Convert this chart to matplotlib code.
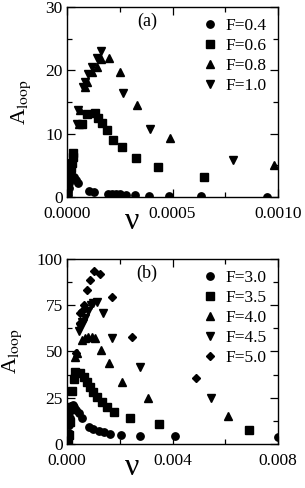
import matplotlib
matplotlib.use("Agg")
import matplotlib.pyplot as plt
from matplotlib.ticker import MultipleLocator, FormatStrFormatter

plt.rcParams['font.family'] = ['Liberation Serif', 'DejaVu Serif']
plt.rcParams['mathtext.fontset'] = 'stix'

# ---------------- panel (a) data ----------------
a_labels = ["F=0.4", "F=0.6", "F=0.8", "F=1.0"]
a_f04_x = [0.000004, 0.000006, 0.000008, 0.000010, 0.000013, 0.000016, 0.000020,
           0.000032, 0.000043, 0.000052, 0.000103, 0.000130, 0.000193, 0.000213,
           0.000234, 0.000250, 0.000281, 0.000324, 0.000387, 0.000482, 0.000637,
           0.000948]
a_f04_y = [0.3, 0.8, 1.4, 2.2, 3.0, 3.6, 4.0, 3.2, 2.7, 2.2, 0.95, 0.75, 0.5,
           0.48, 0.45, 0.42, 0.38, 0.3, 0.22, 0.15, 0.1, 0.05]
a_f06_x = [0.000015, 0.000020, 0.000024, 0.000027, 0.000030, 0.000070, 0.000093,
           0.000133, 0.000148, 0.000167, 0.000188, 0.000220, 0.000259, 0.000327,
           0.000433, 0.000648]
a_f06_y = [3.8, 4.6, 5.4, 6.3, 7.0, 11.6, 13.1, 13.2, 12.5, 11.7, 10.6, 9.0,
           7.9, 6.1, 4.8, 3.2]
a_f08_x = [0.000058, 0.000062, 0.000085, 0.000093, 0.000117, 0.000141, 0.000160,
           0.000200, 0.000251, 0.000330, 0.000488, 0.000980]
a_f08_y = [11.5, 13.8, 17.4, 18.2, 19.8, 20.6, 21.8, 22.0, 19.8, 14.5, 9.3, 5.0]
a_f10_x = [0.000046, 0.000054, 0.000077, 0.000085, 0.000101, 0.000117, 0.000141,
           0.000160, 0.000267, 0.000393, 0.000785]
a_f10_y = [11.5, 13.7, 17.3, 18.2, 19.4, 20.6, 22.0, 23.1, 16.4, 10.8, 5.8]

# ---------------- panel (b) data ----------------
b_labels = ["F=3.0", "F=3.5", "F=4.0", "F=4.5", "F=5.0"]
b_f30_x = [0.00002, 0.00004, 0.00006, 0.00008, 0.00010, 0.00013, 0.00017, 0.00022,
           0.00028, 0.00035, 0.00045, 0.00057, 0.00082, 0.00100, 0.00120, 0.00139,
           0.00164, 0.00205, 0.00275, 0.00410, 0.00800]
b_f30_y = [1.0, 3.0, 6.0, 10.0, 14.0, 18.0, 20.5, 21.0, 20.0, 18.5, 16.6, 13.9,
           9.4, 8.1, 7.2, 6.3, 5.6, 5.0, 4.5, 4.2, 4.0]
b_f35_x = [0.00003, 0.00006, 0.00010, 0.00015, 0.00020, 0.00025, 0.00032, 0.00050,
           0.00063, 0.00076, 0.00088, 0.00100, 0.00114, 0.00133, 0.00152, 0.00177,
           0.00239, 0.00350, 0.00690]
b_f35_y = [2.0, 5.0, 12.0, 20.0, 28.5, 35.0, 39.0, 38.2, 36.4, 33.7, 31.0, 28.3,
           25.6, 22.9, 20.2, 17.5, 14.1, 10.8, 7.6]
b_f40_x = [0.00030, 0.00037, 0.00056, 0.00068, 0.00081, 0.00094, 0.00106, 0.00128,
           0.00160, 0.00207, 0.00308, 0.00609]
b_f40_y = [47.0, 49.0, 56.0, 57.5, 58.0, 58.0, 57.1, 50.8, 43.6, 33.7, 24.7, 15.3]
b_f45_x = [0.00046, 0.00049, 0.00055, 0.00062, 0.00070, 0.00080, 0.00090, 0.00100,
           0.00112, 0.00135, 0.00170, 0.00277, 0.00545]
b_f45_y = [61.0, 63.4, 66.0, 65.2, 68.0, 72.0, 75.0, 76.0, 76.9, 70.6, 57.5, 41.8, 24.9]
b_f50_x = [0.00035, 0.00049, 0.00050, 0.00056, 0.00064, 0.00075, 0.00087, 0.00102,
           0.00125, 0.00170, 0.00245, 0.00490]
b_f50_y = [49.0, 65.5, 70.6, 72.0, 75.1, 83.2, 88.6, 93.5, 92.0, 79.3, 58.0, 35.6]

fig = plt.figure(figsize=(3.05, 4.88), dpi=100)
ax1 = fig.add_axes([0.2197, 0.5963, 0.6918, 0.3894])
ax2 = fig.add_axes([0.2197, 0.0902, 0.6918, 0.3791])

ms = 5.3
kw = dict(color='black', linestyle='none', markersize=ms)

ax1.plot(a_f04_x, a_f04_y, marker='o', label=a_labels[0], **kw)
ax1.plot(a_f06_x, a_f06_y, marker='s', label=a_labels[1], **kw)
ax1.plot(a_f08_x, a_f08_y, marker='^', label=a_labels[2], **kw)
ax1.plot(a_f10_x, a_f10_y, marker='v', label=a_labels[3], **kw)

ax2.plot(b_f30_x, b_f30_y, marker='o', label=b_labels[0], **kw)
ax2.plot(b_f35_x, b_f35_y, marker='s', label=b_labels[1], **kw)
ax2.plot(b_f40_x, b_f40_y, marker='^', label=b_labels[2], **kw)
ax2.plot(b_f45_x, b_f45_y, marker='v', label=b_labels[3], **kw)
ax2.plot(b_f50_x, b_f50_y, marker='D', label=b_labels[4], color='black',
         linestyle='none', markersize=4.4)

ax1.set_xlim(0, 0.001)
ax1.set_ylim(0, 30)
ax1.xaxis.set_major_locator(MultipleLocator(0.0005))
ax1.xaxis.set_minor_locator(MultipleLocator(0.00025))
ax1.yaxis.set_major_locator(MultipleLocator(10))
ax1.yaxis.set_minor_locator(MultipleLocator(5))
ax1.xaxis.set_major_formatter(FormatStrFormatter('%.4f'))

ax2.set_xlim(0, 0.008)
ax2.set_ylim(0, 100)
ax2.xaxis.set_major_locator(MultipleLocator(0.004))
ax2.xaxis.set_minor_locator(MultipleLocator(0.002))
ax2.yaxis.set_major_locator(MultipleLocator(25))
ax2.yaxis.set_minor_locator(MultipleLocator(12.5))
ax2.xaxis.set_major_formatter(FormatStrFormatter('%.3f'))

for ax, tag in ((ax1, '(a)'), (ax2, '(b)')):
    for s in ax.spines.values():
        s.set_linewidth(1.0)
    ax.tick_params(which='both', direction='in', top=True, right=True,
                   labelsize=12.5)
    ax.tick_params(axis='x', which='both', pad=6.5)
    ax.tick_params(axis='y', which='both', pad=3)
    ax.tick_params(which='major', length=6, width=0.9)
    ax.tick_params(which='minor', length=3.5, width=0.9)
    ax.set_xlabel('ν', fontsize=23, va='baseline')
    ax.xaxis.set_label_coords(0.31, -0.168)
    ax.set_ylabel(r'A$_{\rm loop}$', fontsize=16, labelpad=9)
    ax.text(0.38, 0.925, tag, transform=ax.transAxes, fontsize=13,
            ha='center', va='center')
    ax.legend(loc='upper right', frameon=False, fontsize=12.5,
              handletextpad=0.3, labelspacing=0.22, borderaxespad=0.25,
              handlelength=1.2, markerscale=1.0)

fig.savefig('out.png', dpi=100)
